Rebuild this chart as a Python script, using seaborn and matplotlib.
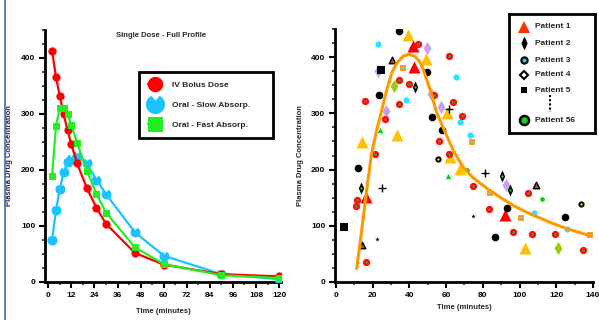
import numpy as np
import pandas as pd
import matplotlib
matplotlib.use("Agg")
import matplotlib.pyplot as plt
from matplotlib.path import Path
from matplotlib.lines import Line2D
from matplotlib.ticker import MultipleLocator
import seaborn as sns

sns.set_style("white")
plt.rcParams['font.family'] = ['Liberation Sans', 'DejaVu Sans']
plt.rcParams['font.weight'] = 'bold'

# ---------------- left panel data ----------------
time_min = [2, 4, 6, 8, 10, 12, 15, 20, 25, 30, 45, 60, 90, 120]
iv_bolus = [413, 366, 332, 300, 271, 246, 212, 168, 133, 104, 52, 31, 14, 10]
oral_slow = [75, 128, 166, 196, 214, 220, 225, 212, 183, 157, 89, 47, 14, 5]
oral_fast = [190, 279, 310, 311, 300, 281, 249, 199, 158, 124, 62, 32, 12, 7]
series_labels = ["IV Bolus Dose", "Oral - Slow Absorp.", "Oral - Fast Absorp."]
left_xticks = [0, 12, 24, 36, 48, 60, 72, 84, 96, 108, 120]

# ---------------- right panel data ----------------
pt_time = [38.7, 42.7, 34.1, 39.0, 22.7, 42.1, 44.7, 49.6, 61.4, 30.3,
           49.0, 42.3, 36.5, 24.5, 22.7, 49.7, 65.2, 34.1, 39.8, 43.0,
           31.8, 51.7, 53.4, 23.2, 15.8, 38.3, 63.6, 34.3, 57.0, 61.7,
           27.2, 60.3, 68.8, 52.3, 26.5, 67.7, 57.6, 24.1, 33.0, 72.8,
           74.3, 14.0, 55.9, 21.1, 61.4, 55.4, 62.0, 12.2, 67.5, 61.2,
           71.2, 81.0, 90.4, 13.6, 25.2, 92.6, 108.8, 74.6, 94.8, 16.2,
           11.6, 10.9, 83.9, 104.4, 112.4, 133.3, 74.4, 83.3, 93.0, 92.0,
           108.0, 100.8, 124.7, 4.5, 96.4, 106.8, 119.3, 126.0, 86.8, 22.5,
           14.0, 102.9, 120.7, 134.7, 16.5, 138.5]
pt_conc = [461, 460, 446, 440, 424, 420, 423, 417, 402, 395,
           396, 383, 380, 377, 375, 374, 365, 359, 352, 347,
           348, 335, 332, 332, 322, 323, 320, 316, 312, 307,
           304, 301, 296, 293, 290, 284, 270, 271, 261, 261,
           249, 249, 251, 228, 228, 219, 222, 203, 201, 189,
           200, 194, 188, 167, 167, 173, 173, 171, 164, 152,
           146, 136, 158, 158, 148, 139, 117, 129, 131, 119,
           122, 114, 115, 97, 89, 85, 85, 95, 80, 76,
           66, 60, 61, 57, 36, 83]
pt_kind = ["orange_sq", "star", "black_circ", "gold_tri", "cyan", "red_tri", "red_ring", "lav_diam", "red_ring", "brown_tri",
           "gold_tri", "red_tri", "orange_sq", "black_sq", "lav_diam", "black_circ", "cyan", "red_ring", "red_ring", "black_diam",
           "olive_diam", "lav_diam", "red_ring", "black_circ", "red_ring", "cyan", "red_ring", "red_ring", "lav_diam", "plus",
           "lav_diam", "gold_tri", "red_ring", "black_circ", "red_ring", "cyan", "black_circ", "green_tri", "gold_tri", "cyan",
           "orange_sq", "gold_tri", "red_ring", "red_ring", "red_ring", "black_ring", "gold_tri", "black_circ", "gold_tri", "green_tri",
           "green_dot", "plus", "black_diam", "black_diam", "plus", "lav_diam", "brown_tri", "red_ring", "black_diam", "red_tri",
           "red_ring", "red_ring", "orange_sq", "red_ring", "green_dot", "black_ring", "star", "red_ring", "black_circ", "red_tri",
           "cyan", "orange_sq", "black_circ", "black_sq", "red_ring", "red_ring", "red_ring", "cyan", "black_circ", "star",
           "brown_tri", "gold_tri", "olive_diam", "red_ring", "red_ring", "orange_sq"]

fit_time = [11.3, 14.0, 16.7, 19.4, 22.2, 24.9, 27.6, 30.3, 33.1, 36.7, 39.8, 43.0, 45.4,
            47.5, 51.2, 54.8, 59.4, 63.9, 69.3, 74.8, 82.1, 89.3, 96.6, 105.7, 111.1,
            116.6, 125.7, 134.7, 138.7]
fit_conc = [24, 91, 162, 228, 270, 305, 341, 371, 389, 402, 405, 401, 393,
            379, 343, 302, 267, 234, 204, 185, 167, 151, 136, 121, 114,
            106, 95, 86, 82]

legend_patients = ["Patient 1", "Patient 2", "Patient 3", "Patient 4", "Patient 5", "Patient 56"]
right_xticks = [0, 20, 40, 60, 80, 100, 120, 140]

# ---------------- markers ----------------
ang = np.deg2rad(np.linspace(90 + 28, 90 + 360 - 28, 30))
notch = np.vstack([np.c_[np.cos(ang), np.sin(ang)], [[0, 0.35]], [[np.cos(ang[0]), np.sin(ang[0])]]])
notch_marker = Path(notch, closed=True)
tall_diam = Path([(0, 1), (0.45, 0), (0, -1), (-0.45, 0), (0, 1)], closed=True)

fig = plt.figure(figsize=(5.99, 3.2), dpi=100)

# ======== Left panel ========
axL = fig.add_axes([45 / 599, 38 / 320, 236 / 599, 252 / 320])
df_left = pd.DataFrame({"t": time_min, "iv": iv_bolus, "slow": oral_slow, "fast": oral_fast})
sns.lineplot(data=df_left, x="t", y="slow", ax=axL, color="#19C3FF", lw=1.6,
             marker=notch_marker, markersize=6.5, markeredgecolor="#19C3FF", label=series_labels[1], zorder=3)
sns.lineplot(data=df_left, x="t", y="iv", ax=axL, color="#FF0000", lw=1.6,
             marker="o", markersize=5.2, markeredgecolor="#FF0000", label=series_labels[0], zorder=4)
sns.lineplot(data=df_left, x="t", y="fast", ax=axL, color="#22EE22", lw=1.6,
             marker="s", markersize=5, markeredgecolor="#22EE22", label=series_labels[2], zorder=5)
axL.set_xlim(-1.7, 121)
axL.set_ylim(0, 450)
axL.set_xticks(left_xticks)
axL.xaxis.set_minor_locator(MultipleLocator(6))
axL.set_yticks([0, 100, 200, 300, 400])
axL.yaxis.set_minor_locator(MultipleLocator(25))
axL.set_xlabel("Time (minutes)", fontsize=5.5, fontweight="bold", labelpad=7)
axL.set_ylabel("Plasma Drug Concentration", fontsize=5.5, fontweight="bold", labelpad=6)
axL.text(0.49, 0.98, "Single Dose - Full Profile", transform=axL.transAxes,
         ha="center", va="center", fontsize=5.5, fontweight="bold")
hL, lL = axL.get_legend_handles_labels()
order = [lL.index(s) for s in series_labels]
leg = axL.legend([hL[i] for i in order], [lL[i] for i in order], loc="upper left",
                 bbox_to_anchor=((139 - 45) / 236, (282 - 135) / 252, 134 / 236, 63 / 252),
                 mode="expand", fancybox=False, framealpha=1,
                 edgecolor="black", prop={"size": 6, "weight": "bold"},
                 markerscale=2.0, handlelength=1.6, borderpad=1.1, labelspacing=1.45,
                 handletextpad=1.2, borderaxespad=0)
leg.get_frame().set_linewidth(2)

# ======== Right panel ========
axR = fig.add_axes([335 / 599, 38 / 320, 258 / 599, 253 / 320])
df_pts = pd.DataFrame({"t": pt_time, "c": pt_conc, "kind": pt_kind})
styles = {
    "gold_tri":   dict(marker="^", color="#FFC000", s=75, center=None),
    "red_tri":    dict(marker="^", color="#FF0000", s=75, center=None),
    "black_circ": dict(marker="o", color="#000000", s=30, center=None),
    "cyan":       dict(marker="o", color="#22E8FF", s=20, center=None),
    "lav_diam":   dict(marker="d", color="#C8A0F0", s=45, center=None),
    "black_diam": dict(marker=tall_diam, color="#000000", s=75, center="#22CC22"),
    "red_ring":   dict(marker="o", color="#FF1010", s=28, center="#22AA22"),
    "orange_sq":  dict(marker="s", color="#FF9A1A", s=24, center="#44DDDD"),
    "green_tri":  dict(marker="^", color="#11CC11", s=16, center=None),
    "green_dot":  dict(marker="o", color="#11CC11", s=12, center=None),
    "olive_diam": dict(marker="d", color="#99CC11", s=45, center=None),
    "black_sq":   dict(marker="s", color="#000000", s=40, center=None),
    "plus":       dict(marker="+", color="#000000", s=28, center=None),
    "star":       dict(marker="*", color="#000000", s=12, center=None),
    "brown_tri":  dict(marker="^", color="#B05A20", s=22, center=None),
    "black_ring": dict(marker="o", color="#000000", s=20, center="#DDDD22"),
}
for kind, st in styles.items():
    sub = df_pts[df_pts["kind"] == kind]
    if sub.empty:
        continue
    ec = "black" if kind == "brown_tri" else st["color"]
    lw = 1.0 if kind in ("plus", "brown_tri") else 0
    sns.scatterplot(data=sub, x="t", y="c", ax=axR, marker=st["marker"], color=st["color"],
                    s=st["s"], edgecolor=ec, linewidth=lw, zorder=3)
    if st["center"] is not None:
        sns.scatterplot(data=sub, x="t", y="c", ax=axR, marker="o", color=st["center"],
                        s=3, linewidth=0, zorder=4)
df_fit = pd.DataFrame({"t": fit_time, "c": fit_conc})
sns.lineplot(data=df_fit, x="t", y="c", ax=axR, color="#FF9900", lw=2.2, zorder=5)
axR.set_xlim(-0.5, 140)
axR.set_ylim(0, 450)
axR.set_xticks(right_xticks)
axR.xaxis.set_minor_locator(MultipleLocator(10))
axR.set_yticks([0, 100, 200, 300, 400])
axR.yaxis.set_minor_locator(MultipleLocator(25))
axR.set_xlabel("Time (minutes)", fontsize=5.5, fontweight="bold", labelpad=4)
axR.set_ylabel("Plasma Drug Concentration", fontsize=5.5, fontweight="bold", labelpad=5)

for ax in (axL, axR):
    for side in ("top", "right"):
        ax.spines[side].set_visible(False)
    for side in ("left", "bottom"):
        ax.spines[side].set_linewidth(2)
        ax.spines[side].set_color("black")
    ax.tick_params(which="major", direction="out", length=4, width=1.5, labelsize=6,
                   bottom=True, left=True, pad=3, colors="black")
    ax.tick_params(which="minor", direction="out", length=2.5, width=1.2, bottom=True, left=True)
    for lab in ax.get_xticklabels() + ax.get_yticklabels():
        lab.set_fontweight("bold")

# ======== Right legend (custom box) ========
axLeg = fig.add_axes([509 / 599, (320 - 133) / 320, 86 / 599, 119 / 320])
axLeg.set_xlim(509, 595)
axLeg.set_ylim(133, 14)
axLeg.set_xticks([])
axLeg.set_yticks([])
for sp in axLeg.spines.values():
    sp.set_linewidth(2)
    sp.set_color("black")
leg_y = [26.7, 43.3, 60, 75, 90, 120]
leg_marks = [
    dict(marker="^", color="#FF3300", ms=9, mec="#FF3300", mew=0),
    dict(marker=tall_diam, color="black", ms=10, mec="black", mew=0),
    dict(marker="o", color="#33CCCC", ms=4.5, mec="black", mew=1.5),
    dict(marker="D", color="white", ms=4.5, mec="black", mew=1.5),
    dict(marker="s", color="black", ms=5, mec="black", mew=0),
    dict(marker="o", color="#22CC22", ms=6.5, mec="black", mew=1.8),
]
for y, lab, mk in zip(leg_y, legend_patients, leg_marks):
    axLeg.plot([524], [y], linestyle="none", **mk)
    axLeg.text(535, y, lab, fontsize=6, fontweight="bold", va="center", ha="left")
axLeg.plot([550, 550], [95, 112], color="black", lw=1.5, linestyle=(0, (1, 1)))

# blue frame line at left edge
fig.add_artist(Line2D([4.5 / 599, 4.5 / 599], [0, 1], transform=fig.transFigure,
                      color="#3A6FB0", lw=1.2))

fig.savefig("out.png", dpi=100)
